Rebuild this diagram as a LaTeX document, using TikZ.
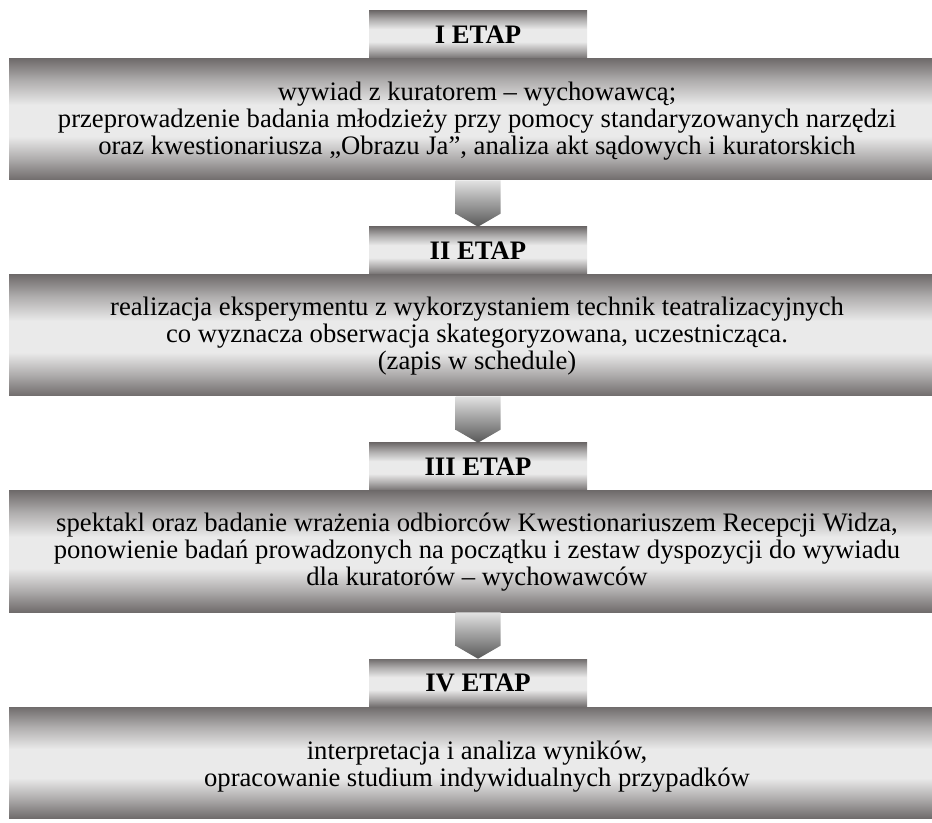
\documentclass[tikz,border=0pt]{standalone}
\usepackage{fontspec}
\setmainfont{Liberation Serif}
\usetikzlibrary{calc}

% metallic grey tones
\definecolor{steeldark}{RGB}{112,108,108}
\definecolor{steelmid}{RGB}{176,174,174}
\definecolor{steellight}{RGB}{234,234,234}
\definecolor{arrowtop}{RGB}{226,226,226}
\definecolor{arrowbottom}{RGB}{88,88,88}

% dark at both edges, bright band in the middle
\pgfdeclareverticalshading{metal}{100bp}{%
  color(0bp)=(steeldark); color(25bp)=(steeldark); color(34bp)=(steelmid);
  color(43bp)=(steellight); color(56bp)=(steellight); color(66bp)=(steelmid);
  color(75bp)=(steeldark); color(100bp)=(steeldark)}

\tikzset{
  etap/.style={shading=metal, minimum width=163.5pt, minimum height=36pt,
    inner sep=0pt, font=\fontsize{20}{20.25}\selectfont\bfseries},
  stagebox/.style={shading=metal, minimum width=693pt, minimum height=#1,
    inner sep=0pt},
  stagebox/.default=90.75pt,
  stagetext/.style={align=center, inner sep=0pt,
    font=\fontsize{20}{20.25}\selectfont},
  flowarrow/.style={top color=arrowtop, bottom color=arrowbottom, draw=none},
}

\begin{document}
\begin{tikzpicture}[x=0.75pt, y=-0.75pt]
\useasboundingbox (0,0) rectangle (932,823);

% stage headers
\node[etap] (h1) at (478,35)  {I ETAP};
\node[etap] (h2) at (478,251) {II ETAP};
\node[etap] (h3) at (478,467) {III ETAP};
\node[etap] (h4) at (478,683) {IV ETAP};

% stage description panels
\node[stagebox] (b1) at (471,119.5) {};
\node[stagebox] (b2) at (471,335.5) {};
\node[stagebox] (b3) at (471,551.5) {};
\node[stagebox=83.25pt] (b4) at (471,762.5) {};

\node[stagetext] (t1) at ($(b1.center)+(6,1.2)$) {wywiad z kuratorem – wychowawcą;\\
  przeprowadzenie badania młodzieży przy pomocy standaryzowanych narzędzi\\
  oraz kwestionariusza „Obrazu Ja”, analiza akt sądowych i kuratorskich};
\node[stagetext] (t2) at ($(b2.center)+(6,0.2)$) {realizacja eksperymentu z wykorzystaniem technik teatralizacyjnych\\
  co wyznacza obserwacja skategoryzowana, uczestnicząca.\\
  (zapis w schedule)};
\node[stagetext] (t3) at ($(b3.center)+(6,0.2)$) {spektakl oraz badanie wrażenia odbiorców Kwestionariuszem Recepcji Widza,\\
  ponowienie badań prowadzonych na początku i zestaw dyspozycji do wywiadu\\
  dla kuratorów – wychowawców};
\node[stagetext] (t4) at ($(b4.center)+(6,4.2)$) {interpretacja i analiza wyników,\\
  opracowanie studium indywidualnych przypadków};

% block arrows between stages
\foreach \from/\to in {b1/h2, b2/h3, b3/h4}{
  \shade[flowarrow]
    ($(\to.north |- \from.south)+(-22.5,0)$) --
    ($(\to.north |- \from.south)+(22.5,0)$) --
    ($(\to.north)+(22.5,-13)$) -- (\to.north) --
    ($(\to.north)+(-22.5,-13)$) -- cycle;
}
\end{tikzpicture}
\end{document}
